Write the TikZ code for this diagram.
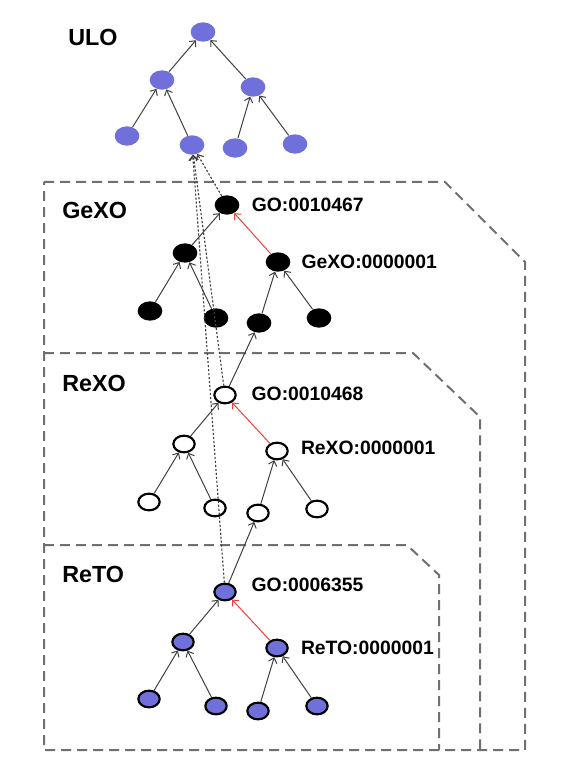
\documentclass[tikz,border=0pt]{standalone}
\usepackage{fontspec}
\setmainfont{Liberation Sans}
\usetikzlibrary{positioning, arrows.meta, shapes.geometric}

\definecolor{ulofill}{RGB}{112,112,218}
\definecolor{boxgray}{RGB}{112,112,112}
\definecolor{edgegray}{RGB}{64,64,64}
\definecolor{linkred}{RGB}{236,64,64}

\tikzset{
    >={Straight Barb[length=3.5pt, width=6.5pt]},
    term/.style={ellipse, minimum width=18.5pt, minimum height=14.5pt, inner sep=0pt},
    uloterm/.style={term, fill=ulofill},
    gexoterm/.style={term, fill=black},
    rexoterm/.style={term, draw=black, line width=1.6pt, fill=white, minimum width=16pt, minimum height=12.5pt},
    retoterm/.style={term, draw=black, line width=1.6pt, fill=ulofill, minimum width=16pt, minimum height=12.5pt},
    region/.style={draw=boxgray, line width=1.5pt, dash pattern=on 7.5pt off 4.5pt},
    regionname/.style={font=\bfseries\fontsize{17.5}{20}\selectfont, anchor=west, inner sep=0pt},
    termid/.style={font=\bfseries\fontsize{14.5}{16}\selectfont, inner sep=0pt},
    isa/.style={->, draw=edgegray, line width=0.75pt},
    xref/.style={->, draw=linkred, line width=0.75pt},
    mapsto/.style={->, draw=edgegray, line width=0.85pt, dash pattern=on 1.6pt off 1.4pt},
}

\begin{document}
\begin{tikzpicture}[x=0.75pt, y=-0.75pt]
\useasboundingbox (0,0) rectangle (564,777);

% --- ontology regions ---
\draw [region] (44,182) -- (445,182) -- (525,262) -- (525,750) -- (44,750) -- cycle;
\draw [region] (44,353) -- (413,353) -- (480,417) -- (480,750);
\draw [region] (44,545) -- (407,545) -- (439,575) -- (439,750);

\node [regionname] (uloname) at (68,37) {ULO};
\node [regionname] (gexoname) at (62,210) {GeXO};
\node [regionname] (rexoname) at (62,383) {ReXO};
\node [regionname] (retoname) at (62,574) {ReTO};

% --- ULO terms ---
\node [uloterm] (ulotop) at (203,32) {};
\node [uloterm] (ulol) at (162,80) {};
\node [uloterm] (ulor) at (253,87) {};
\node [uloterm] (ulola) at (127,136) {};
\node [uloterm] (ulolb) at (192,145) {};
\node [uloterm] (ulora) at (235,148) {};
\node [uloterm] (ulorb) at (295,144) {};

% --- GeXO terms ---
\node [gexoterm] (gexotop) at (227,205) {};
\node [gexoterm] (gexol) at (185,253) {};
\node [gexoterm] (gexor) at (278,262) {};
\node [gexoterm] (gexola) at (150,311) {};
\node [gexoterm] (gexolb) at (216,318) {};
\node [gexoterm] (gexora) at (259,323) {};
\node [gexoterm] (gexorb) at (319,318) {};

\node [
    termid,
    right=9pt of gexotop,
] (gexotopid) {GO:0010467};

\node [
    termid,
    right=8pt of gexor,
] (gexorid) {GeXO:0000001};

% --- ReXO terms ---
\node [rexoterm] (rexotop) at (225,395) {};
\node [rexoterm] (rexol) at (184,444) {};
\node [rexoterm] (rexor) at (277,451) {};
\node [rexoterm] (rexola) at (149,502) {};
\node [rexoterm] (rexolb) at (215,508) {};
\node [rexoterm] (rexora) at (258,513) {};
\node [rexoterm] (rexorb) at (317,509) {};

\node [
    termid,
    right=11pt of rexotop,
    yshift=1pt,
] (rexotopid) {GO:0010468};

\node [
    termid,
    right=9pt of rexor,
    yshift=2pt,
] (rexorid) {ReXO:0000001};

% --- ReTO terms ---
\node [retoterm] (retotop) at (225,592) {};
\node [retoterm] (retol) at (183,642) {};
\node [retoterm] (retor) at (277,648) {};
\node [retoterm] (retola) at (149,699) {};
\node [retoterm] (retolb) at (216,706) {};
\node [retoterm] (retora) at (258,711) {};
\node [retoterm] (retorb) at (317,706) {};

\node [
    termid,
    right=11pt of retotop,
    yshift=5pt,
] (retotopid) {GO:0006355};

\node [
    termid,
    right=9pt of retor,
] (retorid) {ReTO:0000001};

% --- is_a links ---
\begin{scope}[isa]
\draw (ulol) -- (ulotop);
\draw (ulor) -- (ulotop);
\draw (ulola) -- (ulol);
\draw (ulolb) -- (ulol);
\draw (ulora) -- (ulor);
\draw (ulorb) -- (ulor);

\draw (gexol) -- (gexotop);
\draw (gexola) -- (gexol);
\draw (gexolb) -- (gexol);
\draw (gexora) -- (gexor);
\draw (gexorb) -- (gexor);

\draw (rexol) -- (rexotop);
\draw (rexola) -- (rexol);
\draw (rexolb) -- (rexol);
\draw (rexora) -- (rexor);
\draw (rexorb) -- (rexor);

\draw (retol) -- (retotop);
\draw (retola) -- (retol);
\draw (retolb) -- (retol);
\draw (retora) -- (retor);
\draw (retorb) -- (retor);

% --- links between ontologies ---
\draw (rexotop) -- (gexora);
\draw (retotop) -- (rexora);
\end{scope}

\draw [xref] (gexor) -- (gexotop);
\draw [xref] (rexor) -- (rexotop);
\draw [xref] (retor) -- (retotop);

% --- mappings to ULO ---
\draw [mapsto] (gexotop) -- (ulolb);
\draw [mapsto] (rexotop) -- (ulolb);
\draw [mapsto] (retotop) -- (ulolb);

\end{tikzpicture}
\end{document}
